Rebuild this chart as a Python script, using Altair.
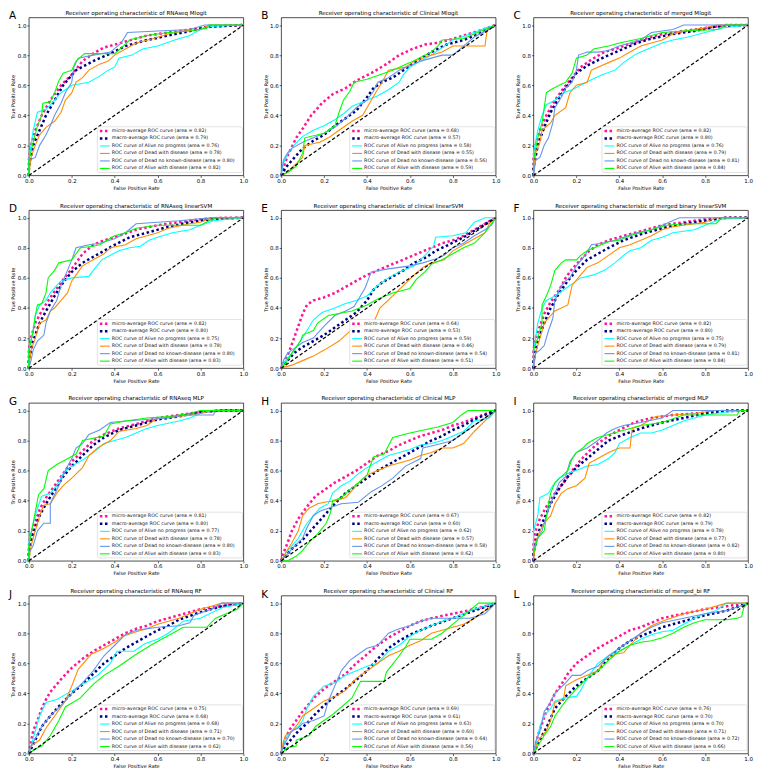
import altair as alt
import pandas as pd

FONT = "DejaVu Sans"
KEYS = ["micro", "macro", "c0", "c1", "c2", "c3"]
CLASS_NAMES = ["Alive no progress", "Dead with disease", "Dead no known-disease", "Alive with disease"]
COLORS = ["#ff1493", "#000080", "#00ffff", "#ff8c00", "#6495ed", "#00ff00"]
LETTERS = list("ABCDEFGHIJKL")
TITLES = [
    "Receiver operating characteristic of RNAseq Mlogit",
    "Receiver operating characteristic of Clinical Mlogit",
    "Receiver operating characteristic of merged Mlogit",
    "Receiver operating characteristic of RNAseq linearSVM",
    "Receiver operating characteristic of clinical linearSVM",
    "Receiver operating characteristic of merged binary linearSVM",
    "Receiver operating characteristic of RNAseq MLP",
    "Receiver operating characteristic of Clinical MLP",
    "Receiver operating characteristic of merged MLP",
    "Receiver operating characteristic of RNAseq RF",
    "Receiver operating characteristic of Clinical RF",
    "Receiver operating characteristic of merged_bi RF",
]
# areas: micro, macro, Alive no progress, Dead with disease, Dead no known-disease, Alive with disease
AREAS = [
    [0.82, 0.79, 0.76, 0.78, 0.80, 0.82],
    [0.68, 0.57, 0.58, 0.55, 0.56, 0.59],
    [0.82, 0.80, 0.76, 0.79, 0.81, 0.84],
    [0.82, 0.80, 0.75, 0.78, 0.80, 0.83],
    [0.64, 0.53, 0.59, 0.46, 0.54, 0.51],
    [0.82, 0.80, 0.75, 0.79, 0.81, 0.84],
    [0.81, 0.80, 0.77, 0.78, 0.80, 0.83],
    [0.67, 0.60, 0.62, 0.57, 0.58, 0.62],
    [0.82, 0.79, 0.78, 0.77, 0.82, 0.80],
    [0.75, 0.68, 0.68, 0.71, 0.70, 0.62],
    [0.69, 0.61, 0.63, 0.60, 0.64, 0.56],
    [0.76, 0.70, 0.70, 0.71, 0.72, 0.66],
]
TICKS = [0.0, 0.2, 0.4, 0.6, 0.8, 1.0]
DIAG = [0.0, 1.0]

ROC_A = {
    "micro": [(0,0),(0,0.1),(0.01,0.2),(0.03,0.3),(0.06,0.4),(0.1,0.5),(0.15,0.6),(0.2,0.67),(0.25,0.76),(0.3,0.81),(0.35,0.85),(0.45,0.89),(0.55,0.93),(0.65,0.95),(0.75,0.97),(0.85,0.99),(1,1)],
    "macro": [(0,0),(0,0.05),(0.02,0.2),(0.05,0.3),(0.08,0.4),(0.12,0.5),(0.16,0.6),(0.22,0.7),(0.3,0.76),(0.38,0.81),(0.45,0.86),(0.55,0.9),(0.65,0.93),(0.75,0.96),(0.85,0.99),(1,1)],
    "c0": [(0,0),(0,0.1),(0.02,0.3),(0.04,0.42),(0.08,0.44),(0.12,0.5),(0.15,0.55),(0.2,0.6),(0.28,0.62),(0.33,0.66),(0.37,0.7),(0.4,0.72),(0.42,0.78),(0.48,0.8),(0.53,0.84),(0.6,0.86),(0.68,0.9),(0.75,0.93),(0.8,0.97),(0.85,0.99),(1,1)],
    "c1": [(0,0),(0.01,0.12),(0.03,0.2),(0.05,0.27),(0.08,0.32),(0.12,0.36),(0.15,0.42),(0.17,0.5),(0.2,0.55),(0.22,0.62),(0.25,0.65),(0.28,0.7),(0.33,0.74),(0.37,0.76),(0.4,0.8),(0.45,0.84),(0.5,0.88),(0.58,0.91),(0.65,0.94),(0.72,0.96),(0.8,0.97),(0.84,1.0),(1,1)],
    "c2": [(0,0),(0,0.1),(0.03,0.12),(0.05,0.2),(0.08,0.27),(0.1,0.33),(0.12,0.4),(0.15,0.48),(0.17,0.55),(0.2,0.62),(0.21,0.72),(0.23,0.78),(0.3,0.8),(0.38,0.82),(0.43,0.88),(0.46,0.95),(0.6,0.96),(0.75,0.97),(0.82,1.0),(1,1)],
    "c3": [(0,0),(0,0.1),(0.02,0.22),(0.04,0.33),(0.06,0.4),(0.065,0.48),(0.1,0.49),(0.12,0.55),(0.14,0.63),(0.16,0.68),(0.2,0.7),(0.22,0.76),(0.26,0.81),(0.4,0.81),(0.44,0.86),(0.47,0.9),(0.55,0.93),(0.65,0.95),(0.75,0.96),(0.83,0.98),(0.84,1.0),(1,1)],
}
ROC_B = {
    "micro": [(0,0),(0.01,0.05),(0.03,0.13),(0.07,0.25),(0.1,0.31),(0.14,0.4),(0.19,0.48),(0.24,0.54),(0.3,0.58),(0.35,0.63),(0.42,0.68),(0.49,0.74),(0.55,0.8),(0.61,0.84),(0.67,0.87),(0.72,0.88),(0.78,0.9),(0.85,0.93),(0.92,0.96),(1,1)],
    "macro": [(0,0),(0.02,0.05),(0.05,0.1),(0.1,0.18),(0.15,0.23),(0.2,0.27),(0.25,0.33),(0.3,0.38),(0.35,0.43),(0.4,0.52),(0.43,0.58),(0.47,0.62),(0.52,0.65),(0.57,0.7),(0.63,0.76),(0.7,0.82),(0.77,0.87),(0.85,0.9),(0.92,0.94),(1,1)],
    "c0": [(0,0),(0.01,0.08),(0.03,0.14),(0.06,0.2),(0.1,0.26),(0.15,0.3),(0.2,0.33),(0.25,0.37),(0.3,0.42),(0.33,0.46),(0.4,0.5),(0.45,0.53),(0.5,0.57),(0.55,0.62),(0.57,0.67),(0.6,0.72),(0.65,0.76),(0.7,0.8),(0.75,0.85),(0.8,0.9),(0.9,0.95),(0.95,0.98),(1,1)],
    "c1": [(0,0),(0.03,0.02),(0.05,0.05),(0.1,0.12),(0.11,0.2),(0.18,0.22),(0.22,0.25),(0.27,0.3),(0.33,0.36),(0.38,0.4),(0.4,0.45),(0.44,0.55),(0.47,0.62),(0.5,0.7),(0.58,0.72),(0.62,0.76),(0.7,0.8),(0.75,0.82),(0.8,0.86),(0.95,0.86),(0.96,0.97),(1,1)],
    "c2": [(0,0),(0.01,0.1),(0.03,0.15),(0.05,0.18),(0.1,0.22),(0.15,0.25),(0.2,0.28),(0.25,0.32),(0.3,0.38),(0.35,0.45),(0.4,0.5),(0.43,0.56),(0.45,0.62),(0.5,0.65),(0.55,0.7),(0.6,0.73),(0.65,0.76),(0.7,0.78),(0.75,0.8),(0.8,0.8),(0.85,0.86),(0.9,0.92),(0.95,0.96),(1,1)],
    "c3": [(0,0),(0.03,0.02),(0.07,0.06),(0.1,0.15),(0.11,0.25),(0.2,0.28),(0.25,0.33),(0.27,0.42),(0.29,0.5),(0.32,0.56),(0.34,0.62),(0.4,0.64),(0.46,0.67),(0.52,0.7),(0.6,0.75),(0.7,0.82),(0.73,0.86),(0.75,0.9),(0.85,0.91),(0.9,0.94),(0.95,0.97),(1,1)],
}
ROC_C = {
    "micro": [(0,0),(0,0.12),(0.01,0.2),(0.03,0.3),(0.06,0.4),(0.1,0.5),(0.14,0.58),(0.18,0.65),(0.22,0.72),(0.27,0.77),(0.33,0.82),(0.4,0.85),(0.5,0.9),(0.6,0.94),(0.7,0.96),(0.8,0.98),(0.9,1.0),(1,1)],
    "macro": [(0,0),(0,0.05),(0.02,0.2),(0.05,0.32),(0.08,0.42),(0.12,0.52),(0.16,0.6),(0.2,0.68),(0.25,0.73),(0.32,0.78),(0.4,0.83),(0.48,0.88),(0.55,0.91),(0.65,0.94),(0.75,0.96),(0.85,0.99),(1,1)],
    "c0": [(0,0),(0,0.15),(0.02,0.3),(0.04,0.4),(0.06,0.47),(0.1,0.5),(0.14,0.55),(0.18,0.57),(0.22,0.6),(0.26,0.63),(0.32,0.67),(0.38,0.7),(0.42,0.75),(0.47,0.8),(0.5,0.82),(0.55,0.85),(0.6,0.88),(0.65,0.9),(0.72,0.92),(0.8,0.95),(0.88,0.98),(1,1)],
    "c1": [(0,0),(0.01,0.15),(0.03,0.22),(0.04,0.3),(0.08,0.35),(0.1,0.4),(0.15,0.45),(0.17,0.55),(0.2,0.6),(0.25,0.62),(0.27,0.7),(0.3,0.72),(0.35,0.75),(0.4,0.78),(0.45,0.82),(0.5,0.86),(0.55,0.88),(0.6,0.9),(0.65,0.94),(0.7,0.96),(0.75,0.97),(0.8,0.98),(0.85,1.0),(1,1)],
    "c2": [(0,0),(0.01,0.1),(0.03,0.12),(0.05,0.2),(0.07,0.25),(0.09,0.35),(0.1,0.45),(0.13,0.52),(0.15,0.58),(0.18,0.62),(0.2,0.7),(0.21,0.8),(0.25,0.82),(0.3,0.82),(0.35,0.83),(0.4,0.86),(0.45,0.88),(0.5,0.9),(0.55,0.95),(0.65,0.97),(0.7,1.0),(1,1)],
    "c3": [(0,0),(0,0.1),(0.02,0.25),(0.04,0.35),(0.05,0.45),(0.06,0.55),(0.08,0.57),(0.12,0.6),(0.15,0.62),(0.18,0.68),(0.2,0.78),(0.25,0.8),(0.28,0.84),(0.35,0.86),(0.4,0.88),(0.5,0.91),(0.55,0.93),(0.6,0.95),(0.7,0.96),(0.86,0.97),(0.9,1.0),(1,1)],
}
ROC_D = {
    "micro": [(0,0),(0,0.12),(0.01,0.2),(0.03,0.3),(0.06,0.38),(0.1,0.47),(0.15,0.57),(0.2,0.66),(0.25,0.76),(0.3,0.82),(0.35,0.85),(0.42,0.88),(0.5,0.92),(0.6,0.95),(0.7,0.97),(0.8,0.99),(0.9,1.0),(1,1)],
    "macro": [(0,0),(0,0.05),(0.02,0.18),(0.05,0.3),(0.08,0.38),(0.12,0.48),(0.16,0.57),(0.2,0.64),(0.25,0.7),(0.3,0.74),(0.35,0.78),(0.4,0.82),(0.47,0.87),(0.55,0.9),(0.65,0.94),(0.75,0.97),(0.85,0.99),(1,1)],
    "c0": [(0,0),(0,0.12),(0.02,0.25),(0.03,0.35),(0.05,0.42),(0.08,0.45),(0.1,0.5),(0.13,0.55),(0.15,0.58),(0.2,0.6),(0.28,0.61),(0.3,0.65),(0.34,0.72),(0.38,0.75),(0.42,0.78),(0.47,0.8),(0.52,0.81),(0.56,0.85),(0.6,0.87),(0.67,0.9),(0.75,0.92),(0.8,0.95),(0.86,0.98),(1,1)],
    "c1": [(0,0),(0.01,0.12),(0.03,0.2),(0.05,0.3),(0.08,0.32),(0.1,0.38),(0.12,0.4),(0.15,0.45),(0.18,0.5),(0.2,0.58),(0.22,0.62),(0.25,0.68),(0.3,0.72),(0.35,0.76),(0.38,0.8),(0.45,0.82),(0.5,0.86),(0.55,0.88),(0.6,0.9),(0.65,0.93),(0.75,0.96),(0.8,0.97),(0.85,1.0),(1,1)],
    "c2": [(0,0),(0.01,0.05),(0.02,0.12),(0.04,0.18),(0.07,0.22),(0.08,0.3),(0.1,0.38),(0.13,0.45),(0.15,0.55),(0.18,0.65),(0.2,0.72),(0.22,0.8),(0.28,0.82),(0.33,0.83),(0.4,0.86),(0.45,0.9),(0.5,0.96),(0.6,0.97),(0.7,0.98),(0.85,1.0),(1,1)],
    "c3": [(0,0),(0,0.12),(0.02,0.25),(0.03,0.35),(0.04,0.42),(0.06,0.43),(0.08,0.5),(0.09,0.6),(0.12,0.65),(0.14,0.7),(0.2,0.72),(0.24,0.8),(0.3,0.81),(0.33,0.82),(0.4,0.88),(0.45,0.9),(0.5,0.93),(0.55,0.94),(0.6,0.95),(0.8,0.95),(0.84,0.98),(0.87,1.0),(1,1)],
}
ROC_E = {
    "micro": [(0,0),(0.02,0.05),(0.04,0.12),(0.06,0.2),(0.08,0.28),(0.1,0.36),(0.12,0.42),(0.15,0.45),(0.2,0.47),(0.25,0.5),(0.3,0.54),(0.35,0.58),(0.4,0.62),(0.45,0.65),(0.5,0.68),(0.55,0.71),(0.6,0.74),(0.65,0.77),(0.7,0.8),(0.75,0.83),(0.8,0.85),(0.85,0.88),(0.9,0.92),(0.95,0.96),(1,1)],
    "macro": [(0,0),(0.03,0.05),(0.06,0.1),(0.1,0.14),(0.15,0.18),(0.2,0.22),(0.25,0.27),(0.3,0.32),(0.35,0.37),(0.4,0.45),(0.43,0.52),(0.47,0.57),(0.52,0.61),(0.57,0.65),(0.62,0.7),(0.68,0.74),(0.72,0.78),(0.78,0.82),(0.85,0.87),(0.92,0.93),(1,1)],
    "c0": [(0,0),(0.02,0.05),(0.05,0.1),(0.08,0.16),(0.12,0.25),(0.15,0.32),(0.19,0.37),(0.25,0.4),(0.3,0.43),(0.35,0.45),(0.4,0.48),(0.45,0.55),(0.5,0.6),(0.55,0.64),(0.62,0.68),(0.67,0.75),(0.71,0.81),(0.72,0.87),(0.8,0.88),(0.86,0.9),(0.9,0.97),(0.95,1.0),(1,1)],
    "c1": [(0,0),(0.05,0.02),(0.1,0.05),(0.15,0.08),(0.2,0.12),(0.27,0.18),(0.3,0.22),(0.34,0.27),(0.43,0.3),(0.46,0.4),(0.52,0.48),(0.57,0.55),(0.62,0.62),(0.66,0.67),(0.7,0.7),(0.76,0.72),(0.8,0.78),(0.85,0.82),(0.9,0.86),(0.95,0.9),(0.97,0.96),(1,1)],
    "c2": [(0,0),(0.01,0.05),(0.03,0.1),(0.06,0.13),(0.1,0.17),(0.15,0.2),(0.2,0.28),(0.25,0.35),(0.3,0.38),(0.34,0.41),(0.39,0.53),(0.42,0.64),(0.5,0.66),(0.6,0.68),(0.66,0.7),(0.73,0.73),(0.76,0.75),(0.8,0.8),(0.85,0.83),(0.9,0.88),(0.95,0.92),(0.98,0.95),(1,1)],
    "c3": [(0,0),(0.02,0.03),(0.05,0.1),(0.09,0.18),(0.1,0.22),(0.15,0.25),(0.17,0.3),(0.22,0.35),(0.33,0.38),(0.4,0.42),(0.45,0.46),(0.52,0.5),(0.6,0.53),(0.63,0.59),(0.67,0.64),(0.7,0.69),(0.75,0.72),(0.8,0.76),(0.85,0.8),(0.9,0.83),(0.95,0.9),(1,1)],
}
ROC_F = {
    "micro": [(0,0),(0,0.12),(0.01,0.2),(0.03,0.28),(0.05,0.36),(0.08,0.44),(0.12,0.52),(0.15,0.6),(0.18,0.66),(0.22,0.72),(0.26,0.78),(0.3,0.82),(0.35,0.85),(0.42,0.88),(0.5,0.91),(0.6,0.95),(0.7,0.97),(0.8,0.99),(0.9,1.0),(1,1)],
    "macro": [(0,0),(0,0.05),(0.02,0.18),(0.05,0.3),(0.08,0.4),(0.12,0.5),(0.16,0.58),(0.2,0.65),(0.25,0.72),(0.3,0.76),(0.35,0.8),(0.42,0.85),(0.5,0.89),(0.6,0.93),(0.7,0.96),(0.8,0.98),(0.9,1.0),(1,1)],
    "c0": [(0,0),(0,0.1),(0.02,0.3),(0.04,0.4),(0.06,0.45),(0.1,0.48),(0.14,0.52),(0.18,0.56),(0.22,0.6),(0.28,0.62),(0.33,0.65),(0.38,0.7),(0.42,0.75),(0.45,0.78),(0.5,0.8),(0.55,0.85),(0.6,0.87),(0.65,0.9),(0.75,0.92),(0.8,0.95),(0.87,0.99),(1,1)],
    "c1": [(0,0),(0.01,0.1),(0.03,0.2),(0.05,0.3),(0.08,0.35),(0.1,0.38),(0.13,0.4),(0.16,0.42),(0.18,0.55),(0.22,0.62),(0.25,0.67),(0.3,0.7),(0.35,0.75),(0.4,0.8),(0.45,0.82),(0.5,0.85),(0.55,0.88),(0.6,0.92),(0.65,0.94),(0.7,0.95),(0.8,0.97),(0.85,1.0),(1,1)],
    "c2": [(0,0),(0.01,0.1),(0.03,0.12),(0.05,0.15),(0.07,0.25),(0.09,0.33),(0.1,0.45),(0.12,0.52),(0.14,0.57),(0.17,0.6),(0.2,0.68),(0.24,0.75),(0.27,0.82),(0.32,0.83),(0.38,0.85),(0.42,0.87),(0.48,0.9),(0.55,0.92),(0.6,0.95),(0.68,1.0),(1,1)],
    "c3": [(0,0),(0,0.12),(0.02,0.2),(0.04,0.3),(0.04,0.42),(0.06,0.48),(0.08,0.55),(0.09,0.6),(0.1,0.65),(0.13,0.7),(0.15,0.72),(0.2,0.72),(0.22,0.75),(0.25,0.78),(0.3,0.81),(0.35,0.84),(0.4,0.85),(0.45,0.88),(0.5,0.9),(0.55,0.92),(0.62,0.95),(0.7,0.96),(0.85,0.96),(0.88,1.0),(1,1)],
}
ROC_G = {
    "micro": [(0,0),(0,0.1),(0.01,0.18),(0.03,0.26),(0.05,0.34),(0.08,0.42),(0.12,0.5),(0.16,0.58),(0.2,0.66),(0.25,0.73),(0.3,0.8),(0.35,0.84),(0.42,0.88),(0.5,0.91),(0.6,0.95),(0.7,0.97),(0.8,0.99),(0.9,1.0),(1,1)],
    "macro": [(0,0),(0,0.05),(0.02,0.18),(0.05,0.3),(0.08,0.38),(0.12,0.47),(0.16,0.56),(0.2,0.63),(0.25,0.7),(0.3,0.77),(0.35,0.82),(0.42,0.87),(0.5,0.9),(0.6,0.94),(0.7,0.96),(0.8,0.99),(0.9,1.0),(1,1)],
    "c0": [(0,0),(0,0.12),(0.02,0.25),(0.04,0.35),(0.06,0.43),(0.1,0.45),(0.13,0.5),(0.16,0.58),(0.2,0.63),(0.25,0.67),(0.3,0.72),(0.35,0.78),(0.4,0.8),(0.45,0.82),(0.5,0.85),(0.55,0.88),(0.6,0.9),(0.7,0.93),(0.75,0.95),(0.8,0.98),(0.85,1.0),(1,1)],
    "c1": [(0,0),(0.01,0.1),(0.03,0.2),(0.05,0.3),(0.07,0.37),(0.1,0.38),(0.13,0.45),(0.16,0.5),(0.2,0.55),(0.25,0.62),(0.28,0.7),(0.32,0.75),(0.38,0.8),(0.42,0.86),(0.5,0.88),(0.55,0.9),(0.6,0.95),(0.7,0.96),(0.8,0.98),(0.85,1.0),(1,1)],
    "c2": [(0,0),(0,0.05),(0.02,0.1),(0.04,0.2),(0.07,0.25),(0.1,0.25),(0.1,0.38),(0.14,0.5),(0.17,0.6),(0.2,0.68),(0.22,0.75),(0.25,0.78),(0.28,0.84),(0.33,0.87),(0.38,0.92),(0.45,0.93),(0.55,0.94),(0.65,0.95),(0.73,0.97),(0.86,0.97),(0.87,1.0),(1,1)],
    "c3": [(0,0),(0,0.1),(0.02,0.25),(0.045,0.44),(0.07,0.48),(0.09,0.6),(0.13,0.64),(0.17,0.67),(0.22,0.71),(0.25,0.8),(0.35,0.83),(0.38,0.91),(0.45,0.93),(0.55,0.95),(0.65,0.96),(0.75,0.98),(0.8,1.0),(1,1)],
}
ROC_H = {
    "micro": [(0,0),(0.01,0.05),(0.03,0.12),(0.05,0.2),(0.08,0.28),(0.12,0.36),(0.16,0.43),(0.2,0.47),(0.25,0.52),(0.3,0.56),(0.35,0.6),(0.4,0.65),(0.45,0.7),(0.5,0.73),(0.55,0.77),(0.6,0.8),(0.65,0.83),(0.7,0.85),(0.75,0.87),(0.8,0.9),(0.85,0.92),(0.9,0.95),(1,1)],
    "macro": [(0,0),(0.02,0.03),(0.05,0.08),(0.1,0.14),(0.15,0.22),(0.2,0.3),(0.25,0.38),(0.3,0.45),(0.35,0.5),(0.4,0.55),(0.45,0.6),(0.5,0.64),(0.55,0.68),(0.6,0.72),(0.65,0.76),(0.7,0.8),(0.75,0.83),(0.8,0.87),(0.85,0.9),(0.9,0.94),(1,1)],
    "c0": [(0,0),(0.02,0.05),(0.05,0.1),(0.08,0.15),(0.12,0.25),(0.15,0.3),(0.18,0.35),(0.22,0.38),(0.24,0.45),(0.28,0.5),(0.32,0.53),(0.36,0.58),(0.4,0.62),(0.45,0.66),(0.5,0.7),(0.55,0.72),(0.6,0.74),(0.65,0.77),(0.7,0.78),(0.75,0.8),(0.8,0.83),(0.85,0.86),(0.9,0.93),(0.97,0.95),(1,1)],
    "c1": [(0,0),(0.02,0.05),(0.05,0.12),(0.08,0.2),(0.1,0.3),(0.13,0.35),(0.17,0.38),(0.2,0.39),(0.25,0.4),(0.3,0.42),(0.35,0.5),(0.4,0.57),(0.45,0.6),(0.5,0.63),(0.55,0.65),(0.6,0.67),(0.65,0.7),(0.7,0.72),(0.75,0.75),(0.8,0.75),(0.85,0.78),(0.9,0.86),(0.95,0.93),(1,1)],
    "c2": [(0,0),(0.02,0.03),(0.05,0.08),(0.1,0.15),(0.12,0.22),(0.15,0.3),(0.18,0.33),(0.22,0.35),(0.28,0.38),(0.36,0.39),(0.42,0.46),(0.47,0.5),(0.52,0.55),(0.58,0.63),(0.65,0.68),(0.66,0.75),(0.72,0.77),(0.8,0.8),(0.85,0.85),(0.9,0.9),(0.95,0.95),(1,1)],
    "c3": [(0,0),(0.03,0),(0.07,0.03),(0.1,0.07),(0.14,0.14),(0.17,0.18),(0.21,0.25),(0.23,0.32),(0.24,0.4),(0.28,0.42),(0.31,0.46),(0.36,0.52),(0.4,0.57),(0.43,0.69),(0.48,0.71),(0.52,0.82),(0.6,0.85),(0.73,0.89),(0.8,0.92),(0.84,0.97),(0.87,1.0),(1,1)],
}
ROC_I = {
    "micro": [(0,0),(0,0.12),(0.01,0.2),(0.03,0.28),(0.06,0.36),(0.1,0.45),(0.14,0.52),(0.18,0.6),(0.22,0.67),(0.26,0.73),(0.3,0.78),(0.35,0.83),(0.4,0.87),(0.47,0.92),(0.55,0.95),(0.65,0.97),(0.75,0.98),(0.85,0.99),(1,1)],
    "macro": [(0,0),(0,0.05),(0.02,0.18),(0.05,0.28),(0.08,0.38),(0.12,0.48),(0.16,0.56),(0.2,0.62),(0.25,0.68),(0.3,0.74),(0.35,0.8),(0.42,0.84),(0.5,0.88),(0.6,0.92),(0.7,0.95),(0.8,0.98),(0.9,1.0),(1,1)],
    "c0": [(0,0),(0,0.2),(0.02,0.3),(0.03,0.42),(0.07,0.45),(0.09,0.5),(0.12,0.55),(0.16,0.58),(0.2,0.6),(0.25,0.63),(0.3,0.64),(0.35,0.68),(0.38,0.72),(0.4,0.78),(0.45,0.82),(0.5,0.85),(0.55,0.85),(0.6,0.87),(0.65,0.9),(0.7,0.93),(0.8,0.97),(0.9,0.99),(1,1)],
    "c1": [(0,0),(0.01,0.12),(0.03,0.2),(0.05,0.25),(0.08,0.3),(0.1,0.38),(0.13,0.45),(0.16,0.48),(0.2,0.5),(0.24,0.55),(0.26,0.65),(0.3,0.68),(0.35,0.72),(0.4,0.75),(0.45,0.75),(0.46,0.88),(0.5,0.9),(0.57,0.96),(0.65,0.97),(0.75,0.98),(0.85,1.0),(1,1)],
    "c2": [(0,0),(0,0.08),(0.02,0.15),(0.04,0.2),(0.06,0.3),(0.08,0.38),(0.1,0.45),(0.12,0.52),(0.15,0.56),(0.17,0.66),(0.2,0.72),(0.25,0.75),(0.3,0.8),(0.34,0.85),(0.38,0.88),(0.42,0.9),(0.5,0.92),(0.6,0.95),(0.65,1.0),(1,1)],
    "c3": [(0,0),(0,0.05),(0.02,0.15),(0.05,0.2),(0.07,0.38),(0.08,0.45),(0.1,0.52),(0.13,0.56),(0.16,0.6),(0.18,0.68),(0.2,0.72),(0.23,0.75),(0.25,0.78),(0.3,0.82),(0.35,0.84),(0.4,0.86),(0.45,0.88),(0.5,0.9),(0.6,0.92),(0.7,0.97),(0.95,0.97),(0.96,1.0),(1,1)],
}
ROC_J = {
    "micro": [(0,0),(0.01,0.08),(0.02,0.15),(0.04,0.22),(0.06,0.3),(0.08,0.36),(0.1,0.41),(0.13,0.46),(0.16,0.51),(0.2,0.57),(0.25,0.63),(0.3,0.68),(0.35,0.72),(0.4,0.76),(0.45,0.8),(0.5,0.83),(0.55,0.85),(0.6,0.88),(0.7,0.92),(0.8,0.96),(0.9,0.98),(1,1)],
    "macro": [(0,0),(0.02,0.06),(0.04,0.12),(0.06,0.18),(0.1,0.25),(0.15,0.33),(0.2,0.4),(0.25,0.46),(0.3,0.53),(0.35,0.6),(0.4,0.65),(0.45,0.7),(0.5,0.74),(0.55,0.78),(0.6,0.82),(0.65,0.85),(0.7,0.89),(0.8,0.94),(0.9,0.98),(1,1)],
    "c0": [(0,0),(0.01,0.05),(0.03,0.15),(0.05,0.25),(0.08,0.34),(0.13,0.36),(0.18,0.4),(0.25,0.46),(0.32,0.52),(0.38,0.6),(0.41,0.68),(0.49,0.68),(0.54,0.73),(0.6,0.76),(0.65,0.8),(0.72,0.88),(0.8,0.9),(0.9,0.97),(1,1)],
    "c1": [(0,0),(0.01,0.05),(0.05,0.09),(0.08,0.17),(0.12,0.25),(0.17,0.35),(0.2,0.45),(0.23,0.56),(0.29,0.66),(0.35,0.7),(0.4,0.74),(0.44,0.78),(0.5,0.81),(0.55,0.83),(0.6,0.86),(0.65,0.88),(0.7,0.9),(0.75,0.93),(0.8,0.96),(0.85,0.98),(0.9,1.0),(1,1)],
    "c2": [(0,0),(0.01,0.05),(0.03,0.1),(0.06,0.18),(0.1,0.25),(0.15,0.32),(0.2,0.4),(0.25,0.47),(0.3,0.55),(0.35,0.65),(0.4,0.72),(0.45,0.79),(0.5,0.82),(0.55,0.83),(0.6,0.84),(0.7,0.85),(0.75,0.87),(0.77,0.92),(0.85,0.96),(0.9,1.0),(1,1)],
    "c3": [(0,0),(0.03,0.03),(0.06,0.05),(0.1,0.12),(0.14,0.22),(0.17,0.31),(0.24,0.37),(0.3,0.46),(0.35,0.52),(0.42,0.58),(0.5,0.66),(0.58,0.73),(0.67,0.8),(0.72,0.84),(0.83,0.84),(0.87,0.9),(0.92,0.93),(0.97,0.96),(1,1)],
}
ROC_K = {
    "micro": [(0,0),(0.01,0.05),(0.02,0.1),(0.04,0.16),(0.07,0.22),(0.1,0.28),(0.13,0.33),(0.16,0.38),(0.2,0.43),(0.25,0.48),(0.3,0.53),(0.35,0.6),(0.4,0.66),(0.45,0.72),(0.5,0.77),(0.55,0.81),(0.6,0.85),(0.65,0.88),(0.7,0.9),(0.8,0.93),(0.9,0.96),(1,1)],
    "macro": [(0,0),(0.02,0.05),(0.05,0.1),(0.08,0.15),(0.12,0.2),(0.15,0.25),(0.2,0.32),(0.25,0.38),(0.3,0.43),(0.35,0.49),(0.4,0.55),(0.45,0.63),(0.5,0.7),(0.55,0.75),(0.6,0.79),(0.65,0.82),(0.7,0.85),(0.8,0.9),(0.9,0.95),(1,1)],
    "c0": [(0,0),(0.01,0.05),(0.02,0.1),(0.05,0.15),(0.08,0.18),(0.1,0.22),(0.12,0.3),(0.15,0.38),(0.2,0.45),(0.25,0.47),(0.3,0.52),(0.35,0.55),(0.4,0.58),(0.45,0.6),(0.5,0.68),(0.55,0.72),(0.6,0.78),(0.65,0.82),(0.7,0.85),(0.75,0.88),(0.8,0.9),(0.85,0.93),(0.9,0.96),(1,1)],
    "c1": [(0,0),(0.01,0.08),(0.02,0.12),(0.05,0.15),(0.08,0.2),(0.1,0.25),(0.15,0.3),(0.2,0.35),(0.25,0.38),(0.3,0.42),(0.35,0.5),(0.4,0.55),(0.45,0.6),(0.5,0.65),(0.55,0.68),(0.6,0.72),(0.65,0.75),(0.7,0.8),(0.75,0.82),(0.8,0.84),(0.85,0.86),(0.9,0.9),(1,1)],
    "c2": [(0,0),(0.01,0.05),(0.03,0.1),(0.05,0.15),(0.08,0.17),(0.1,0.2),(0.15,0.22),(0.2,0.25),(0.22,0.35),(0.25,0.45),(0.28,0.55),(0.32,0.62),(0.35,0.65),(0.4,0.7),(0.45,0.72),(0.5,0.8),(0.55,0.83),(0.6,0.85),(0.65,0.88),(0.7,0.9),(0.8,0.9),(0.88,0.9),(0.95,0.93),(1,1)],
    "c3": [(0,0),(0.03,0.04),(0.07,0.05),(0.07,0.09),(0.13,0.12),(0.16,0.18),(0.24,0.26),(0.33,0.37),(0.37,0.48),(0.48,0.48),(0.49,0.54),(0.55,0.65),(0.58,0.71),(0.6,0.76),(0.7,0.76),(0.75,0.8),(0.8,0.86),(0.86,0.93),(0.92,1.0),(1,1)],
}
ROC_L = {
    "micro": [(0,0),(0.01,0.05),(0.02,0.12),(0.04,0.2),(0.06,0.28),(0.08,0.34),(0.1,0.4),(0.13,0.46),(0.16,0.53),(0.2,0.6),(0.25,0.65),(0.3,0.7),(0.35,0.74),(0.4,0.78),(0.45,0.82),(0.5,0.84),(0.55,0.87),(0.6,0.9),(0.7,0.93),(0.8,0.96),(0.9,0.98),(1,1)],
    "macro": [(0,0),(0.02,0.06),(0.04,0.12),(0.06,0.17),(0.1,0.3),(0.15,0.38),(0.2,0.45),(0.25,0.5),(0.3,0.55),(0.35,0.63),(0.4,0.7),(0.45,0.75),(0.5,0.78),(0.55,0.81),(0.6,0.84),(0.65,0.86),(0.7,0.88),(0.8,0.92),(0.9,0.95),(1,1)],
    "c0": [(0,0),(0.01,0.05),(0.02,0.12),(0.03,0.18),(0.05,0.25),(0.08,0.3),(0.1,0.35),(0.15,0.37),(0.2,0.38),(0.22,0.42),(0.25,0.5),(0.3,0.6),(0.35,0.65),(0.4,0.68),(0.45,0.72),(0.5,0.76),(0.55,0.79),(0.6,0.81),(0.65,0.82),(0.7,0.86),(0.75,0.9),(0.8,0.93),(0.85,0.95),(0.9,1.0),(1,1)],
    "c1": [(0,0),(0.02,0.08),(0.04,0.12),(0.06,0.15),(0.08,0.22),(0.1,0.34),(0.14,0.36),(0.15,0.45),(0.2,0.49),(0.25,0.52),(0.3,0.55),(0.33,0.62),(0.38,0.66),(0.42,0.67),(0.45,0.72),(0.5,0.8),(0.55,0.85),(0.6,0.88),(0.7,0.93),(0.8,0.96),(0.9,1.0),(0.97,1.0),(1,1)],
    "c2": [(0,0),(0.01,0.08),(0.03,0.15),(0.05,0.28),(0.07,0.32),(0.1,0.4),(0.15,0.47),(0.18,0.52),(0.22,0.52),(0.25,0.55),(0.3,0.58),(0.35,0.65),(0.4,0.7),(0.45,0.75),(0.5,0.8),(0.55,0.84),(0.6,0.87),(0.7,0.9),(0.8,0.93),(0.9,0.95),(1,1)],
    "c3": [(0,0),(0.02,0.05),(0.05,0.12),(0.08,0.18),(0.1,0.25),(0.15,0.35),(0.2,0.43),(0.25,0.5),(0.3,0.55),(0.35,0.62),(0.4,0.68),(0.45,0.72),(0.5,0.74),(0.55,0.75),(0.6,0.77),(0.65,0.8),(0.7,0.84),(0.75,0.87),(0.8,0.89),(0.9,0.89),(0.95,0.9),(0.97,0.91),(0.98,0.97),(1,1)],
}
PANELS = [ROC_A, ROC_B, ROC_C, ROC_D, ROC_E, ROC_F, ROC_G, ROC_H, ROC_I, ROC_J, ROC_K, ROC_L]

# ---------------- layout / style ----------------
W, H = 216, 159
YMAX = 1.05
LEG_W, LEG_H = 146, 46
LEG_FS = 4.8

XS = alt.Scale(domain=[0, 1], nice=False, zero=False)
YS = alt.Scale(domain=[0, YMAX], nice=False, zero=False)
XA = alt.Axis(title="False Positive Rate", values=TICKS, format=".1f", labelFlush=False, labelOverlap=False)
YA = alt.Axis(title="True Positive Rate", values=TICKS, format=".1f", labelFlush=False, labelOverlap=False)


def X(f):
    return alt.X(f"{f}:Q", scale=XS, axis=XA)


def Y(f):
    return alt.Y(f"{f}:Q", scale=YS, axis=YA)


def px_x(p):
    return p / W


def px_y(p):
    return (H - p) / H * YMAX


color_enc = alt.Color("key:N", scale=alt.Scale(domain=KEYS, range=COLORS), legend=None)


def panel(n):
    curves = PANELS[n]
    areas = AREAS[n]
    labels = [f"micro-average ROC curve (area = {areas[0]:.2f})",
              f"macro-average ROC curve (area = {areas[1]:.2f})"]
    labels += [f"ROC curve of {c} (area = {a:.2f})" for c, a in zip(CLASS_NAMES, areas[2:])]

    rows = []
    for k in KEYS:
        for i, (fx, ty) in enumerate(curves[k]):
            rows.append({"key": k, "fpr": fx, "tpr": ty, "i": i})
    df = pd.DataFrame(rows)
    df_dot = df[df.key.isin(["micro", "macro"])]
    df_sol = df[~df.key.isin(["micro", "macro"])]

    dotted = alt.Chart(df_dot).mark_line(strokeWidth=2.5, strokeDash=[2.5, 2.6], strokeCap="butt").encode(
        x=X("fpr"), y=Y("tpr"), color=color_enc, order="i:Q")
    solid = alt.Chart(df_sol).mark_line(strokeWidth=1.1).encode(
        x=X("fpr"), y=Y("tpr"), color=color_enc, order="i:Q")
    diag = alt.Chart(pd.DataFrame({"fpr": DIAG, "tpr": DIAG})).mark_line(
        color="black", strokeWidth=1.2, strokeDash=[3.5, 2.2]).encode(x=X("fpr"), y=Y("tpr"))

    L = W - 1 - LEG_W
    T = H - 3 - LEG_H
    box = alt.Chart(pd.DataFrame({"fpr": [px_x(L)], "fpr2": [px_x(W - 1)],
                                  "tpr": [px_y(H - 3)], "tpr2": [px_y(T)]})).mark_rect(
        fill="white", fillOpacity=0.85, stroke="#d0d0d0", strokeWidth=0.6, cornerRadius=1.5).encode(
        x=X("fpr"), x2="fpr2:Q", y=Y("tpr"), y2="tpr2:Q")

    leg = pd.DataFrame({
        "key": KEYS,
        "label": labels,
        "fpr": [px_x(L + 2.5)] * 6,
        "fpr2": [px_x(L + 12.5)] * 6,
        "tx": [px_x(L + 14.5)] * 6,
        "tpr": [px_y(T + 4.2 + j * 7.55) for j in range(6)],
    })
    leg_dot = alt.Chart(leg[leg.key.isin(["micro", "macro"])]).mark_rule(
        strokeWidth=2.5, strokeDash=[2.5, 2.6]).encode(x=X("fpr"), x2="fpr2:Q", y=Y("tpr"), color=color_enc)
    leg_sol = alt.Chart(leg[~leg.key.isin(["micro", "macro"])]).mark_rule(
        strokeWidth=1.1).encode(x=X("fpr"), x2="fpr2:Q", y=Y("tpr"), color=color_enc)
    leg_txt = alt.Chart(leg).mark_text(align="left", baseline="middle", fontSize=LEG_FS, font=FONT,
                                       color="#111111").encode(x=X("tx"), y=Y("tpr"), text="label:N")

    letter = alt.Chart(pd.DataFrame({"letter": [LETTERS[n]]})).mark_text(
        align="left", baseline="alphabetic", fontSize=10.5, font=FONT, color="black").encode(
        x=alt.value(-20), y=alt.value(2), text="letter:N")
    title = alt.Chart(pd.DataFrame({"title": [TITLES[n]]})).mark_text(
        align="center", baseline="alphabetic", fontSize=5.6, font=FONT, fontWeight="normal",
        color="black").encode(x=alt.value(W / 2), y=alt.value(-2.5), text="title:N")

    return alt.layer(dotted, solid, diag, box, leg_dot, leg_sol, leg_txt, letter, title).properties(
        width=W, height=H)


rows = [alt.hconcat(*[panel(r * 3 + c) for c in range(3)], spacing=11) for r in range(4)]
chart = alt.vconcat(*rows, spacing=12).properties(
    padding={"left": 0, "top": 0, "right": 0, "bottom": 0}
).configure_view(stroke="black", strokeWidth=0.7).configure_axis(
    labelFont=FONT, titleFont=FONT, labelFontSize=5.5, titleFontSize=5, titleFontWeight="normal",
    labelColor="black", titleColor="black", tickColor="black", tickSize=2, tickWidth=0.6,
    domain=False, grid=False, labelPadding=1, titlePadding=1.5)

chart.save("out.html", embed_options={"renderer": "svg", "actions": False})
